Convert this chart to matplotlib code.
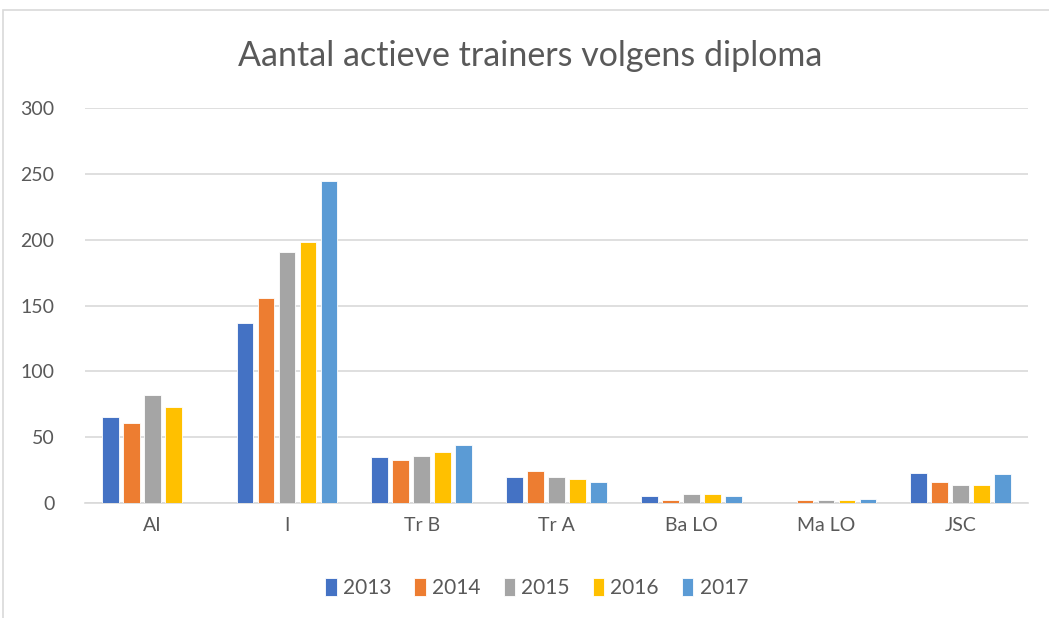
import matplotlib.pyplot as plt
import numpy as np
from matplotlib.patches import Rectangle

categories = ["AI", "I", "Tr B", "Tr A", "Ba LO", "Ma LO", "JSC"]
years = ["2013", "2014", "2015", "2016", "2017"]
v2013 = [65, 137, 35, 20, 5, 0, 23]
v2014 = [61, 156, 33, 24, 2, 2, 16]
v2015 = [82, 191, 36, 20, 7, 2, 14]
v2016 = [73, 198, 39, 18, 7, 2, 14]
v2017 = [0, 245, 44, 16, 5, 3, 22]
colors = ["#4472c4", "#ed7d31", "#a5a5a5", "#ffc000", "#5b9bd5"]

plt.rcParams['font.family'] = ['Lato', 'DejaVu Sans']

fig = plt.figure(figsize=(10.49, 6.18), dpi=100)
ax = fig.add_axes([0.081, 0.186, 0.899, 0.639])

# chart frame (left and top only visible in the reference)
fig.patches.append(Rectangle((3 / 1049, -0.1), 1.2, (618 - 10) / 618 + 0.1,
                             transform=fig.transFigure, fill=False,
                             edgecolor="#d9d9d9", linewidth=1.2))

x = np.arange(len(categories))
pitch = 0.156
width = 0.124
series = [v2013, v2014, v2015, v2016, v2017]
for i, (vals, c, y) in enumerate(zip(series, colors, years)):
    ax.bar(x + (i - 2) * pitch, vals, width, color=c, label=y,
           edgecolor="white", linewidth=0.6, zorder=3)

ax.set_xlim(-0.5, len(categories) - 0.5)
ax.set_ylim(0, 300)
ax.set_yticks(range(0, 301, 50))
ax.set_xticks(x)
ax.set_xticklabels(categories)
ax.grid(axis="y", color="#d9d9d9", linewidth=1.2, zorder=0)
for s in ["top", "right", "left"]:
    ax.spines[s].set_visible(False)
ax.spines["bottom"].set_color("#d9d9d9")
ax.spines["bottom"].set_linewidth(1.2)
ax.tick_params(length=0, labelsize=14, colors="#595959")
ax.tick_params(axis="y", pad=22)
ax.tick_params(axis="x", pad=10)

fig.text(0.505, 0.91, "Aantal actieve trainers volgens diploma", ha="center",
         va="center", fontsize=24.5, color="#595959")

ax.legend(loc="center", bbox_to_anchor=(0.479, -0.215), ncol=5, frameon=False,
          fontsize=15, labelcolor="#595959", handlelength=0.55,
          handleheight=1.0, handletextpad=0.3, columnspacing=1.1)

fig.savefig("out.png", dpi=100)
